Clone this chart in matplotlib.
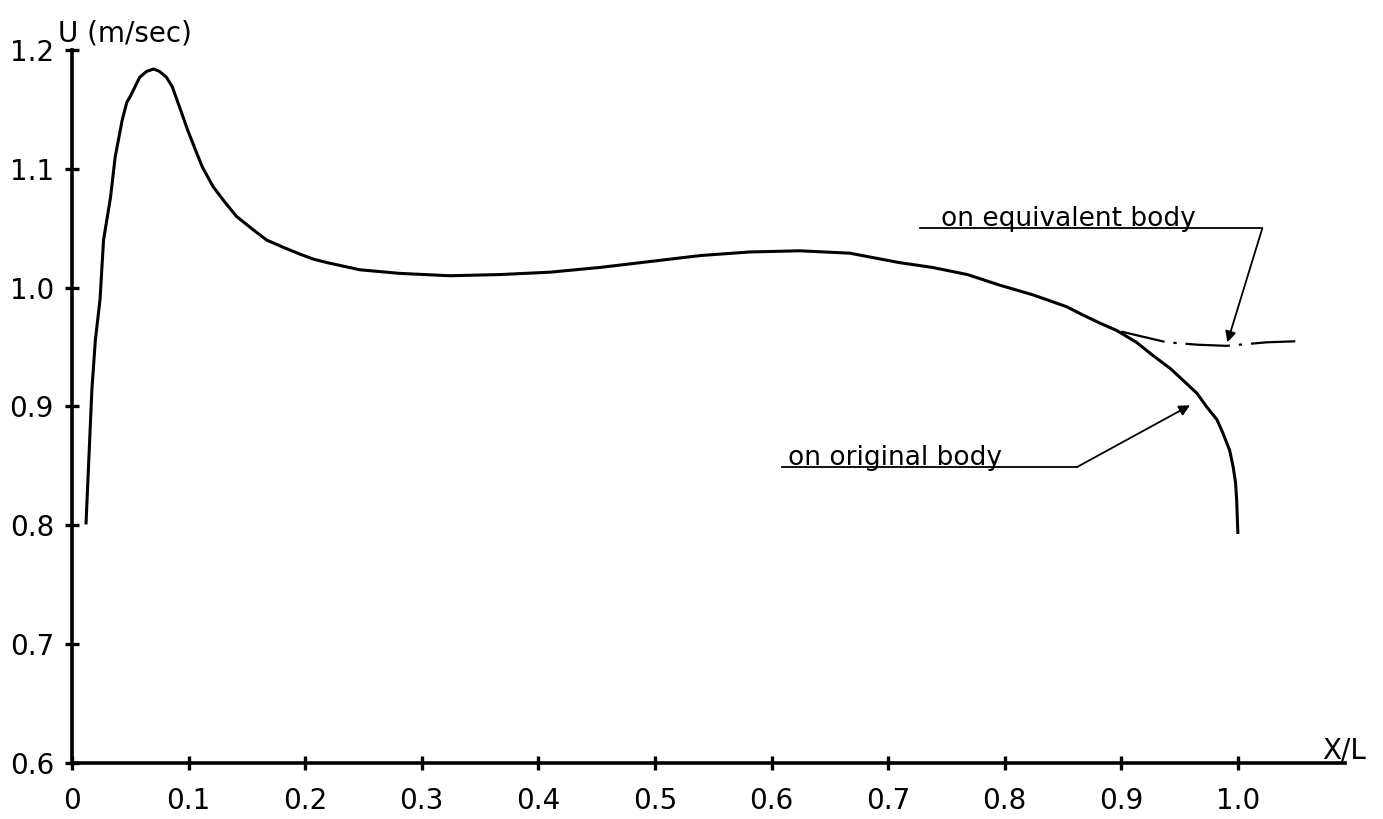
import numpy as np
import matplotlib.pyplot as plt

# velocity along the body (original body)
x_orig = [0.012, 0.017, 0.020, 0.024, 0.027, 0.033, 0.037, 0.043, 0.047, 0.050,
          0.058, 0.064, 0.070, 0.075, 0.081, 0.086, 0.090, 0.094, 0.099, 0.107,
          0.112, 0.121, 0.131, 0.141, 0.155, 0.167, 0.181, 0.196, 0.207, 0.219,
          0.247, 0.281, 0.324, 0.367, 0.410, 0.453, 0.496, 0.539, 0.581, 0.624,
          0.667, 0.710, 0.738, 0.768, 0.796, 0.824, 0.853, 0.867, 0.882, 0.896,
          0.913, 0.927, 0.942, 0.953, 0.965, 0.973, 0.982, 0.987, 0.993, 0.996,
          0.998, 0.999, 1.000]
u_orig = [0.802, 0.914, 0.956, 0.990, 1.040, 1.076, 1.110, 1.141, 1.156, 1.161,
          1.177, 1.182, 1.184, 1.182, 1.177, 1.169, 1.158, 1.147, 1.133, 1.113,
          1.101, 1.085, 1.072, 1.060, 1.049, 1.040, 1.034, 1.028, 1.024, 1.021,
          1.015, 1.012, 1.010, 1.011, 1.013, 1.017, 1.022, 1.027, 1.030, 1.031,
          1.029, 1.021, 1.017, 1.011, 1.002, 0.994, 0.984, 0.977, 0.970, 0.964,
          0.954, 0.943, 0.932, 0.922, 0.911, 0.900, 0.889, 0.878, 0.863, 0.849,
          0.836, 0.821, 0.794]

# equivalent body (tail region)
x_equiv = [0.900, 0.939, 0.965, 0.990, 1.025, 1.053]
u_equiv = [0.963, 0.954, 0.952, 0.951, 0.954, 0.955]

xticks = [0, 0.1, 0.2, 0.3, 0.4, 0.5, 0.6, 0.7, 0.8, 0.9, 1.0]
xlabels = ['0', '0.1', '0.2', '0.3', '0.4', '0.5', '0.6', '0.7', '0.8', '0.9', '1.0']
yticks = [0.6, 0.7, 0.8, 0.9, 1.0, 1.1, 1.2]
ylabels = ['0.6', '0.7', '0.8', '0.9', '1.0', '1.1', '1.2']

fig = plt.figure(figsize=(13.83, 8.19), dpi=100)
ax = fig.add_axes([0.0521, 0.0684, 0.9205, 0.8706])

ax.plot(x_orig, u_orig, color='black', lw=2.2, solid_joinstyle='round')
ax.plot(x_equiv, u_equiv, color='black', lw=1.6, dashes=(20, 4, 1.5, 4))

ax.set_xlim(0, 1.092)
ax.set_ylim(0.6, 1.2)
ax.spines['top'].set_visible(False)
ax.spines['right'].set_visible(False)
ax.spines['left'].set_linewidth(2.6)
ax.spines['bottom'].set_linewidth(2.6)

ax.set_xticks(xticks)
ax.set_xticklabels(xlabels)
ax.set_yticks(yticks)
ax.set_yticklabels(ylabels)
ax.tick_params(direction='inout', length=10, width=2.4, labelsize=20)
ax.tick_params(axis='x', pad=12)
ax.tick_params(axis='y', pad=8)

# axis titles
ax.text(-0.012, 1.207, 'U (m/sec)', fontsize=20, ha='left', va='baseline',
        clip_on=False)
ax.text(1.072, 0.604, 'X/L', fontsize=20, ha='left', va='baseline', clip_on=False)

# labels with leader lines
ax.plot([0.727, 1.021], [1.050, 1.050], color='black', lw=1.3)
ax.text(0.745, 1.052, 'on equivalent body', fontsize=19, ha='left', va='baseline')
ax.annotate('', xy=(0.991, 0.954), xytext=(1.021, 1.050),
            arrowprops=dict(arrowstyle='-|>', color='black', lw=1.3,
                            mutation_scale=16, shrinkA=0, shrinkB=0))

ax.plot([0.609, 0.862], [0.849, 0.849], color='black', lw=1.3)
ax.text(0.614, 0.851, 'on original body', fontsize=19, ha='left', va='baseline')
ax.annotate('', xy=(0.959, 0.901), xytext=(0.862, 0.849),
            arrowprops=dict(arrowstyle='-|>', color='black', lw=1.3,
                            mutation_scale=16, shrinkA=0, shrinkB=0))

fig.savefig('out.png', dpi=100)
